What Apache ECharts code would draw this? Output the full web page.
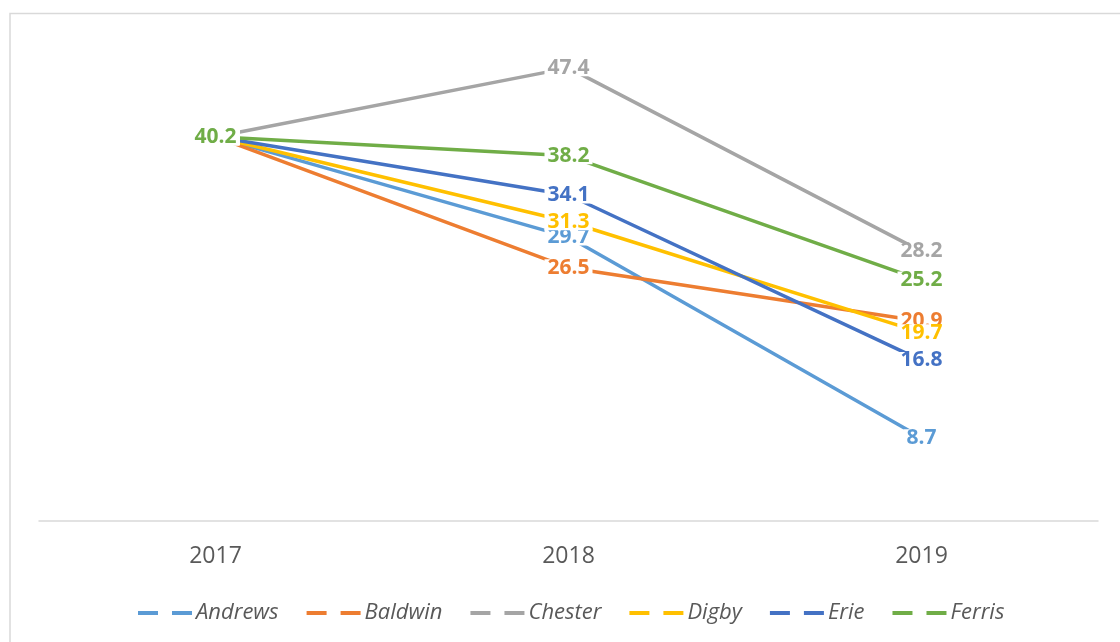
<!DOCTYPE html>
<html>
<head>
<meta charset="utf-8">
<title>Line chart 2017–2019</title>
<script src="https://cdn.jsdelivr.net/npm/echarts@6/dist/echarts.min.js"></script>
<style>
  html, body { margin: 0; padding: 0; background: #ffffff; }
  #chart { width: 1120px; height: 642px; }
</style>
</head>
<body>
<div id="chart"></div>
<script>
// Categories (years)
const years = ['2017', '2018', '2019'];

// Series names and values
const seriesNames = ['Andrews', 'Baldwin', 'Chester', 'Digby', 'Erie', 'Ferris'];
const andrews = [40.2, 29.7, 8.7];
const baldwin = [40.2, 26.5, 20.9];
const chester = [40.2, 47.4, 28.2];
const digby   = [40.2, 31.3, 19.7];
const erie    = [40.2, 34.1, 16.8];
const ferris  = [40.2, 38.2, 25.2];

const seriesColors = ['#5B9BD5', '#ED7D31', '#A5A5A5', '#FFC000', '#4472C4', '#70AD47'];
const seriesValues = [andrews, baldwin, chester, digby, erie, ferris];

const FONT = '"Open Sans", "Noto Sans", sans-serif';

const chart = echarts.init(document.getElementById('chart'), null, { renderer: 'canvas' });

const series = seriesNames.map((name, i) => ({
  name: name,
  type: 'line',
  data: seriesValues[i],
  symbol: 'circle',
  symbolSize: 1,
  showSymbol: true,
  itemStyle: { color: seriesColors[i] },
  lineStyle: { color: seriesColors[i], width: 3.5 },
  emphasis: { disabled: true },
  label: {
    show: true,
    position: 'inside',
    color: seriesColors[i],
    fontFamily: FONT,
    fontWeight: 'bold',
    fontSize: 21,
    lineHeight: 15,
    backgroundColor: '#ffffff',
    padding: [1, 3],
    offset: [0, 1],
    formatter: p => p.value.toFixed(1)
  },
  labelLayout: { hideOverlap: false }
}));

chart.setOption({
  animation: false,
  backgroundColor: '#ffffff',
  graphic: [{
    type: 'rect',
    shape: { x: 10, y: 13.5, width: 1300, height: 800 },
    style: { fill: 'none', stroke: '#d9d9d9', lineWidth: 1.5 },
    silent: true,
    z: -10
  }],
  grid: { left: 39, right: 22, top: 43, bottom: 121 },
  xAxis: {
    type: 'category',
    data: years,
    boundaryGap: true,
    axisLine: { show: true, lineStyle: { color: '#d9d9d9', width: 1.5 } },
    axisTick: { show: false },
    axisLabel: { color: '#595959', fontFamily: FONT, fontSize: 23, margin: 24 },
    splitLine: { show: false }
  },
  yAxis: {
    type: 'value',
    min: 0,
    max: 50,
    interval: 10,
    show: false,
    splitLine: { show: false }
  },
  legend: {
    data: seriesNames,
    left: 138,
    top: 602,
    padding: 0,
    orient: 'horizontal',
    icon: 'path://M0,0H20V4H0Z M34,0H54V4H34Z',
    itemWidth: 54,
    itemHeight: 4,
    itemGap: 28,
    selectedMode: false,
    itemStyle: { borderWidth: 0 },
    lineStyle: { width: 0 },
    textStyle: { color: '#595959', fontFamily: FONT, fontSize: 22, fontStyle: 'italic', padding: [0, 0, 0, -1] }
  },
  series: series
});
</script>
</body>
</html>
